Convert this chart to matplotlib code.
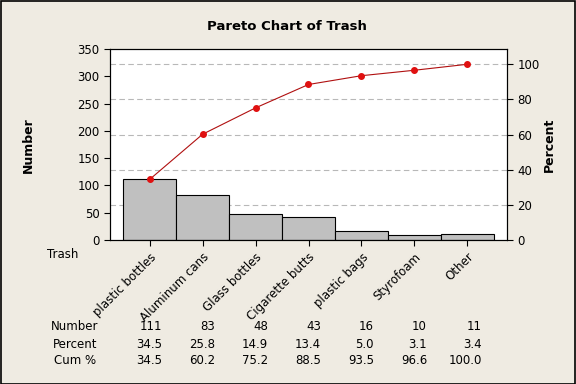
import matplotlib.pyplot as plt
import numpy as np

categories = ['plastic bottles', 'Aluminum cans', 'Glass bottles', 'Cigarette butts',
              'plastic bags', 'Styrofoam', 'Other']
counts = [111, 83, 48, 43, 16, 10, 11]
percents = [34.5, 25.8, 14.9, 13.4, 5.0, 3.1, 3.4]
cum_pct = [34.5, 60.2, 75.2, 88.5, 93.5, 96.6, 100.0]

bg = '#efebe2'
W, H = 576, 384

fig = plt.figure(figsize=(5.76, 3.84), dpi=100, facecolor=bg)
ax = fig.add_axes([110 / W, 1 - 240 / H, 397 / W, 191 / H])
ax.set_facecolor('white')
ax2 = ax.twinx()
ax2.patch.set_visible(False)

total = sum(counts)
x = np.arange(len(categories))

# percent gridlines, drawn in count units behind the bars
for v in range(20, 101, 20):
    ax.axhline(v * total / 100, color='#b8b8b8', linestyle=(0, (5, 3)), linewidth=0.8, zorder=0)

ax.bar(x, counts, width=1.0, color='#c0c0c0', edgecolor='black', linewidth=0.8, zorder=2)
ax.set_xlim(-0.75, 6.75)
ax.set_ylim(0, 350)
ax.set_yticks(range(0, 351, 50))
ax.set_xticks(x)
ax.set_xticklabels(categories, rotation=45, ha='right', rotation_mode='anchor', fontsize=8)
ax.tick_params(axis='both', direction='out', length=4, labelsize=8.5, colors='black')

ax2.set_ylim(0, 350 / total * 100)
ax2.set_yticks(range(0, 101, 20))
ax2.tick_params(axis='y', direction='out', length=4, labelsize=8.5)
ax2.plot(x, cum_pct, color='#b01010', linewidth=0.8, marker='o', markersize=4,
         markerfacecolor='#e01010', markeredgecolor='#e01010', zorder=3)


def ftext(px, py, s, **kw):
    fig.text(px / W, 1 - py / H, s, **kw)


ftext(287, 27, 'Pareto Chart of Trash', ha='center', va='center', fontsize=9.5, fontweight='bold')
ftext(28, 145, 'Number', ha='center', va='center', rotation=90, fontsize=9, fontweight='bold')
ftext(549, 145, 'Percent', ha='center', va='center', rotation=90, fontsize=9, fontweight='bold')
ftext(63, 254, 'Trash', ha='center', va='center', fontsize=8.5)

rows = [('Number', [str(c) for c in counts]),
        ('Percent', [f'{p:.1f}' for p in percents]),
        ('Cum %', [f'{p:.1f}' for p in cum_pct])]
centers_px = [150 + 53 * i for i in range(7)]
for r, (label, vals) in enumerate(rows):
    py = 327 + 17 * r
    ftext(75, py, label, ha='center', va='center', fontsize=8.5)
    for i, v in enumerate(vals):
        off = 14 if i == 6 else 12
        ftext(centers_px[i] + off, py, v, ha='right', va='center', fontsize=8.5)

fig.patches.append(plt.Rectangle((0.001, 0.001), 0.998, 0.997, transform=fig.transFigure,
                                 fill=False, edgecolor='black', linewidth=1.2))

fig.savefig('out.png', dpi=100, facecolor=bg)
